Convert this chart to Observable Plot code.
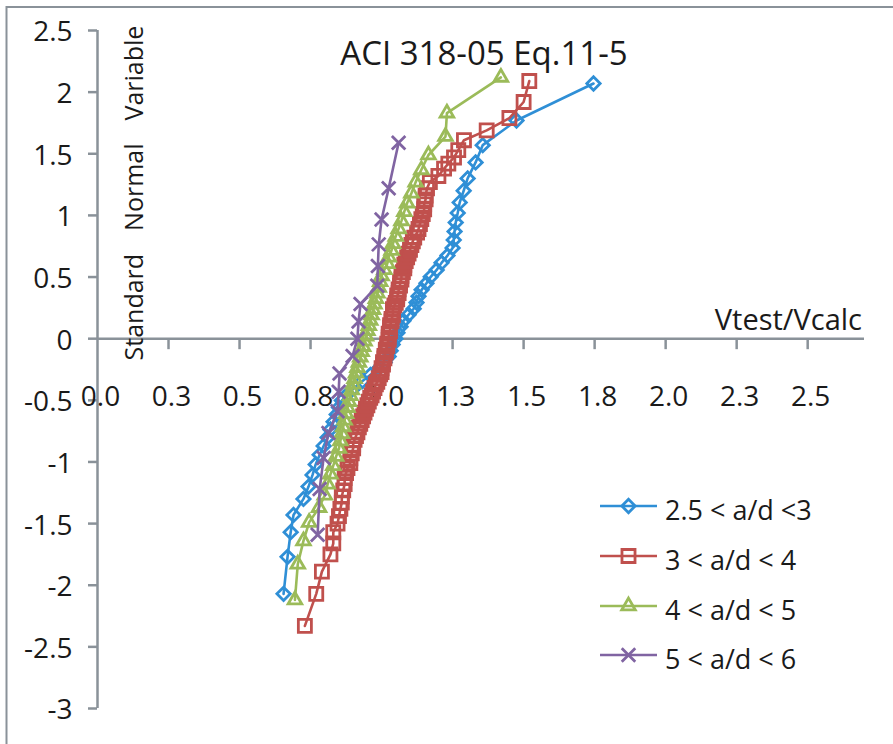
<!DOCTYPE html>
<html><head><meta charset="utf-8">
<script src="https://cdn.jsdelivr.net/npm/d3@7"></script>
<script src="https://cdn.jsdelivr.net/npm/@observablehq/plot@0.6"></script>
<style>
html,body{margin:0;padding:0;background:#fff;overflow:hidden;}
#chart{position:relative;width:893px;height:744px;}
</style></head><body><div id="chart"></div>
<script>
const chartTitle = "ACI 318-05 Eq.11-5";
const xTitle = "Vtest/Vcalc";
const yTitle = "Standard  Normal  Variable";
const seriesNames = ["2.5 < a/d <3", "3 < a/d < 4", "4 < a/d < 5", "5 < a/d < 6"];
const seriesColors = ["#2f8fd6", "#c0504d", "#9bbb59", "#8064a2"];
const seriesSymbols = ["diamond2", "square2", "triangle2", "times"];
const seriesR = [6, 8.3, 6.5, 6.2];

const xTicks = [0, 0.25, 0.5, 0.75, 1, 1.25, 1.5, 1.75, 2, 2.25, 2.5];
const xTickLabels = ["0.0", "0.3", "0.5", "0.8", "1.0", "1.3", "1.5", "1.8", "2.0", "2.3", "2.5"];
const yTicks = [-3, -2.5, -2, -1.5, -1, -0.5, 0, 0.5, 1, 1.5, 2, 2.5];
const yTickLabels = ["-3", "-2.5", "-2", "-1.5", "-1", "-0.5", "0", "0.5", "1", "1.5", "2", "2.5"];

// 2.5 < a/d < 3
const blueX = [0.655,0.669,0.680,0.690,0.725,0.743,0.757,0.768,0.782,0.796,0.810,0.820,0.831,0.842,0.850,0.860,0.880,0.905,0.933,0.961,0.989,1.011,1.025,1.032,1.039,1.049,1.056,1.067,1.077,1.095,1.113,1.123,1.130,1.141,1.158,1.173,1.194,1.211,1.232,1.250,1.254,1.257,1.261,1.268,1.275,1.289,1.303,1.331,1.356,1.475,1.746];
const blueY = [-2.07,-1.77,-1.57,-1.43,-1.30,-1.20,-1.105,-1.02,-0.942,-0.870,-0.801,-0.736,-0.674,-0.615,-0.558,-0.502,-0.449,-0.396,-0.344,-0.293,-0.243,-0.194,-0.145,-0.097,-0.048,0,0.048,0.097,0.145,0.194,0.243,0.293,0.344,0.396,0.449,0.502,0.558,0.615,0.674,0.736,0.801,0.870,0.942,1.02,1.105,1.20,1.30,1.43,1.57,1.77,2.07];

// 3 < a/d < 4
const redX = [0.73,0.77,0.79,0.82,0.83,0.83,0.845,0.85,0.855,0.86,0.86,0.865,0.87,0.87,0.875,0.88,0.89,0.89,0.895,0.90,0.90,0.905,0.91,0.915,0.92,0.925,0.93,0.935,0.94,0.945,0.95,0.955,0.96,0.965,0.97,0.975,0.98,0.985,0.99,0.995,1.00,1.00,1.005,1.005,1.01,1.01,1.015,1.015,1.02,1.02,1.025,1.025,1.025,1.03,1.03,1.03,1.035,1.035,1.04,1.04,1.04,1.045,1.05,1.055,1.055,1.06,1.06,1.065,1.065,1.07,1.07,1.075,1.08,1.08,1.085,1.09,1.095,1.10,1.105,1.11,1.115,1.125,1.13,1.135,1.14,1.145,1.15,1.15,1.155,1.155,1.16,1.17,1.20,1.22,1.235,1.255,1.27,1.29,1.37,1.45,1.50,1.52];
const redY = [-2.33,-2.07,-1.89,-1.75,-1.66,-1.57,-1.50,-1.44,-1.38,-1.33,-1.28,-1.23,-1.18,-1.13,-1.09,-1.05,-1.01,-0.97,-0.93,-0.89,-0.86,-0.82,-0.79,-0.76,-0.72,-0.69,-0.66,-0.63,-0.60,-0.57,-0.54,-0.51,-0.48,-0.46,-0.43,-0.40,-0.37,-0.35,-0.32,-0.29,-0.27,-0.24,-0.21,-0.19,-0.16,-0.14,-0.11,-0.09,-0.06,-0.04,-0.01,0.01,0.04,0.06,0.09,0.11,0.14,0.16,0.19,0.21,0.24,0.27,0.29,0.32,0.35,0.37,0.40,0.43,0.46,0.48,0.51,0.54,0.57,0.60,0.63,0.66,0.69,0.72,0.76,0.79,0.82,0.86,0.89,0.93,0.97,1.01,1.05,1.09,1.13,1.16,1.22,1.27,1.32,1.38,1.42,1.47,1.53,1.61,1.69,1.79,1.92,2.09];

// 4 < a/d < 5
const greenX = [0.695,0.705,0.725,0.745,0.78,0.80,0.81,0.82,0.83,0.84,0.85,0.855,0.86,0.865,0.87,0.875,0.88,0.885,0.89,0.895,0.90,0.905,0.91,0.915,0.92,0.925,0.93,0.935,0.94,0.945,0.95,0.955,0.96,0.965,0.97,0.975,0.98,0.985,0.99,0.995,1.00,1.01,1.02,1.025,1.035,1.04,1.05,1.06,1.07,1.08,1.09,1.105,1.12,1.14,1.165,1.225,1.23,1.42];
const greenY = [-2.12,-1.83,-1.64,-1.49,-1.37,-1.27,-1.18,-1.10,-1.03,-0.956,-0.891,-0.830,-0.771,-0.715,-0.661,-0.609,-0.559,-0.510,-0.462,-0.415,-0.369,-0.324,-0.280,-0.236,-0.193,-0.149,-0.106,-0.064,-0.021,0.021,0.064,0.106,0.149,0.193,0.236,0.280,0.324,0.369,0.415,0.462,0.510,0.559,0.609,0.661,0.715,0.771,0.830,0.891,0.956,1.03,1.10,1.18,1.27,1.37,1.49,1.64,1.83,2.12];

// 5 < a/d < 6
const purpleX = [0.775,0.782,0.796,0.813,0.845,0.849,0.852,0.898,0.915,0.919,0.926,0.985,0.987,0.99,1.00,1.025,1.06];
const purpleY = [-1.59,-1.22,-0.967,-0.765,-0.589,-0.43,-0.282,-0.14,0,0.14,0.282,0.43,0.589,0.765,0.967,1.22,1.59];

const seriesX = [blueX, redX, greenX, purpleX];
const seriesY = [blueY, redY, greenY, purpleY];

const axisColor = "#8a9299";
const textColor = "#1a1a1a";
const fontFamily = "'Open Sans', 'Noto Sans', sans-serif";

const seriesMarks = [];
seriesX.forEach((xs, s) => {
  const ys = seriesY[s];
  const idx = xs.map((_, i) => i);
  seriesMarks.push(Plot.line(idx, {x: i => xs[i], y: i => ys[i], stroke: seriesColors[s], strokeWidth: 2.6, strokeLinejoin: "round"}));
  seriesMarks.push(Plot.dot(idx, {x: i => xs[i], y: i => ys[i], symbol: seriesSymbols[s], r: seriesR[s], stroke: seriesColors[s], strokeWidth: 2.8, fill: "none"}));
});

const plot = Plot.plot({
  width: 893,
  height: 744,
  marginLeft: 97,
  marginRight: 29,
  marginTop: 30,
  marginBottom: 36,
  x: {domain: [0, 2.7], axis: null},
  y: {domain: [-3, 2.5], axis: null},
  style: {fontFamily, fontSize: "28px", background: "#fff", color: textColor},
  marks: [
    Plot.ruleY([0], {x1: 0, x2: 2.7, stroke: axisColor, strokeWidth: 2.5}),
    Plot.ruleX([0], {y1: -3, y2: 2.5, stroke: axisColor, strokeWidth: 2.5}),
    Plot.ruleX(xTicks.slice(1), {x: d => d, y1: 0, y2: 0, insetBottom: -11, stroke: axisColor, strokeWidth: 2.5}),
    Plot.ruleY(yTicks, {y: d => d, x1: 0, x2: 0, insetLeft: -9, stroke: axisColor, strokeWidth: 2.5}),
    Plot.text(xTicks, {x: d => d, y: 0, text: (d, i) => xTickLabels[i], lineAnchor: "bottom", dy: 67, dx: 3, fill: textColor, fontSize: 28}),
    Plot.text(yTicks, {x: 0, y: d => d, text: (d, i) => yTickLabels[i], textAnchor: "end", dx: -25, dy: 2, fill: textColor, fontSize: 28}),
    ...seriesMarks
  ]
});

document.getElementById("chart").appendChild(plot);

const svg = d3.select(plot);
const g = svg.append("g").attr("font-family", fontFamily).attr("fill", textColor).attr("text-anchor", "start");
g.append("path").attr("d", "M6.5,744V7H893").attr("fill", "none").attr("stroke", axisColor).attr("stroke-width", 2);
g.append("text").attr("x", 484).attr("y", 65).attr("text-anchor", "middle").attr("font-size", 33).text(chartTitle);
g.append("text").attr("x", 862).attr("y", 330).attr("text-anchor", "end").attr("font-size", 29).text(xTitle);
g.append("text").attr("transform", "translate(143,193) rotate(-90)").attr("text-anchor", "middle")
  .attr("font-size", 25).attr("xml:space", "preserve").style("white-space", "pre").style("word-spacing", "5px").text(yTitle);

const legendRowY = [506, 556, 606, 655];
seriesNames.forEach((name, s) => {
  const yc = legendRowY[s];
  g.append("line").attr("x1", 600).attr("x2", 657).attr("y1", yc).attr("y2", yc)
    .attr("stroke", seriesColors[s]).attr("stroke-width", 2.6);
  const symType = {diamond2: d3.symbolDiamond2, square2: d3.symbolSquare2, triangle2: d3.symbolTriangle2, times: d3.symbolTimes}[seriesSymbols[s]];
  g.append("path").attr("transform", `translate(628.5,${yc})`)
    .attr("d", d3.symbol(symType, Math.PI * seriesR[s] * seriesR[s])())
    .attr("fill", "none").attr("stroke", seriesColors[s]).attr("stroke-width", 2.8);
  g.append("text").attr("x", 665).attr("y", yc + 14).attr("text-anchor", "start").attr("font-size", 27).text(name);
});
</script>
</body></html>
